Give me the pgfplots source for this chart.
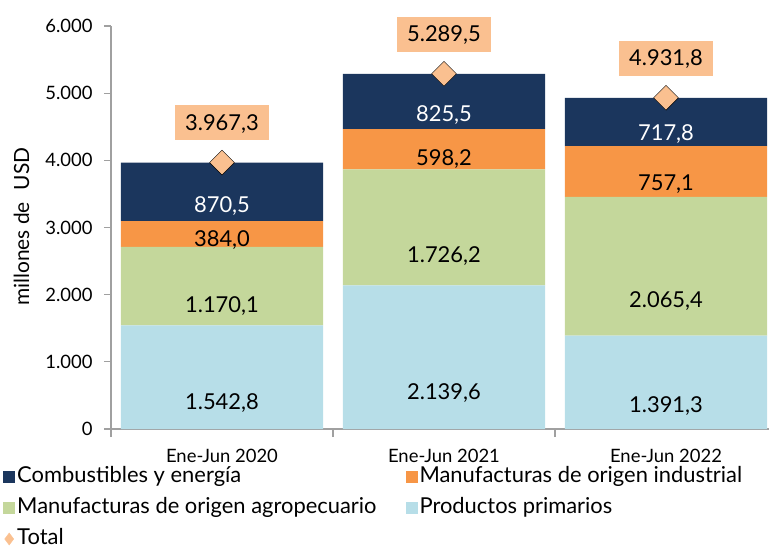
\documentclass[border=0pt]{standalone}
\usepackage{pgfplots}
\pgfplotsset{compat=1.18}
\usepackage{fontspec}
\setmainfont{Lato}

\definecolor{cye}{RGB}{27,54,93}
\definecolor{moi}{RGB}{247,150,70}
\definecolor{moa}{RGB}{196,215,155}
\definecolor{pp}{RGB}{183,222,232}
\definecolor{tot}{RGB}{250,192,144}
\definecolor{axgray}{RGB}{160,160,160}

% label centred inside its stacked segment (y unit = 0.06717bp)
% the node style gets applied twice, hence 0.25 instead of 0.5
\pgfplotsset{
  seglabel/.style={
    point meta=explicit,
    nodes near coords={\pgfmathprintnumber[fixed,fixed zerofill,precision=1,use comma,1000 sep={.},assume math mode=true]{\pgfplotspointmeta}},
    every node near coord/.append style={
      font=\fontsize{22}{22}\selectfont, text=#1, anchor=center,
      /utils/exec={\pgfkeys{/pgf/fpu=true,/pgf/fpu/output format=fixed}%
        \pgfmathsetmacro\segshift{\pgfplotspointmeta*0.25*0.06717}%
        \pgfkeys{/pgf/fpu=false}},
      yshift=-\segshift bp},
  },
  sqlegend/.style={legend image code/.code={\fill[##1] (0bp,-6bp) rectangle (12bp,6bp);}},
}

\begin{document}
\begin{tikzpicture}
\begin{axis}[
    at={(0,0)}, anchor=south west,
    x=222bp, y=0.06717bp,
    xmin=-0.5, xmax=2.464, ymin=0, ymax=6000,
    ybar stacked, bar width=0.91,
    axis lines*=left,
    axis line style={axgray, line width=1.2pt},
    tick style={axgray, line width=1.2pt},
    tick align=outside, major tick length=7bp, minor tick length=8bp,
    xtick={0,1,2}, xticklabels={Ene-Jun 2020,Ene-Jun 2021,Ene-Jun 2022},
    major x tick style={draw=none},
    minor xtick={-0.5,0.5,1.5},
    ytick={0,1000,...,6000}, scaled y ticks=false,
    ticklabel style={font=\fontsize{18.5}{18.5}\selectfont, text=black},
    xticklabel style={yshift=-10bp},
    yticklabel style={xshift=-8bp, /pgf/number format/.cd, 1000 sep={.}, assume math mode=true},
    ylabel={millones de\hspace{12bp}USD},
    ylabel style={font=\fontsize{21}{21}\selectfont, at={(axis description cs:-0.136,0.502)}, anchor=center},
    legend style={at={(axis description cs:-0.1641,-0.09)}, anchor=north west,
      draw=none, fill=none, inner sep=0pt, font=\fontsize{22}{22}\selectfont,
      nodes={inner sep=2bp, text height=15bp, text depth=4bp},
      row sep=8bp,
      /tikz/every even column/.append style={column sep=27bp}},
    legend columns=2, legend cell align=left, reverse legend,
    clip=false,
]
\addlegendimage{legend image code/.code={\fill[tot] (6bp,-6bp) -- (10.5bp,0bp) -- (6bp,6bp) -- (1.5bp,0bp) -- cycle;}}
\addplot[fill=pp, draw=none, sqlegend, seglabel=black]
  coordinates {(0,1542.8)[1542.8] (1,2139.6)[2139.6] (2,1391.3)[1391.3]};
\addplot[fill=moa, draw=none, sqlegend, seglabel=black]
  coordinates {(0,1170.1)[1170.1] (1,1726.2)[1726.2] (2,2065.4)[2065.4]};
\addplot[fill=moi, draw=none, sqlegend, seglabel=black]
  coordinates {(0,384.0)[384.0] (1,598.2)[598.2] (2,757.1)[757.1]};
\addplot[fill=cye, draw=none, sqlegend, seglabel=white]
  coordinates {(0,870.5)[870.5] (1,825.5)[825.5] (2,717.8)[717.8]};
\legend{Total, Productos primarios, Manufacturas de origen agropecuario,
  Manufacturas de origen industrial, Combustibles y energía}
\end{axis}
\begin{axis}[
    at={(0,0)}, anchor=south west,
    x=222bp, y=0.06717bp,
    xmin=-0.5, xmax=2.464, ymin=0, ymax=6000,
    axis lines=none, clip=false,
]
\addplot[only marks, mark=square*, mark size=8.8bp,
  mark options={rotate=45, fill=tot, draw=none},
  point meta=explicit,
  nodes near coords={\pgfmathprintnumber[fixed,fixed zerofill,precision=1,use comma,1000 sep={.},assume math mode=true]{\pgfplotspointmeta}},
  every node near coord/.append style={font=\fontsize{22}{22}\selectfont, fill=tot, anchor=south,
    yshift=22bp, inner xsep=10bp, inner ysep=0bp, text height=25bp, text depth=10bp}]
  coordinates {(0,3967.3)[3967.3] (1,5289.5)[5289.5] (2,4931.8)[4931.8]};
\end{axis}
\pgfresetboundingbox
\path (-111bp,-121bp) rectangle (658bp,429bp);
\end{tikzpicture}
\end{document}
